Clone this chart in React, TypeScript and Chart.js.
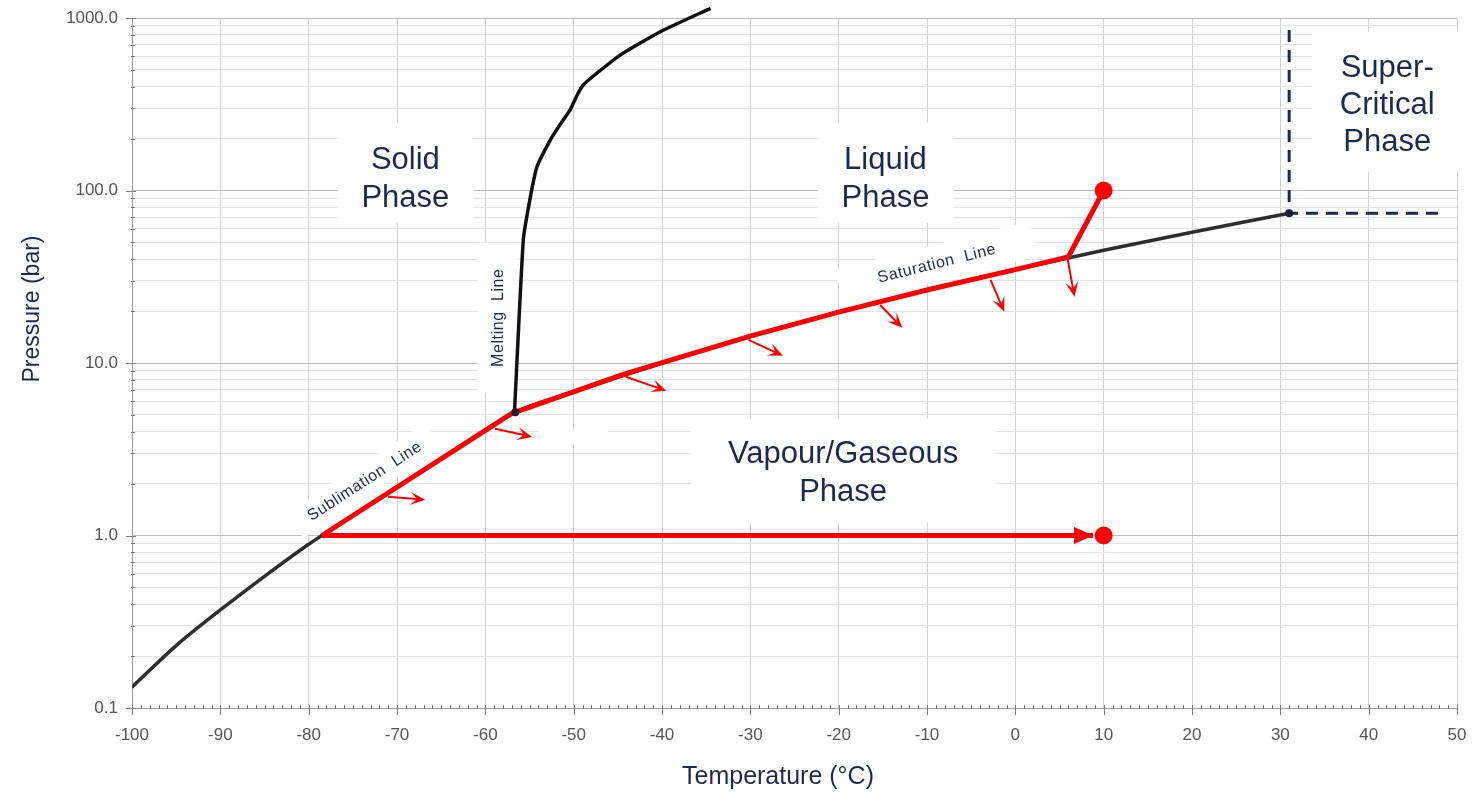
import React, { useEffect, useRef } from 'react';
import { Chart, registerables } from 'chart.js';

Chart.register(...registerables);

// ---------- DATA ----------
// Vapour-pressure curve of CO2 (sublimation + saturation), °C / bar
const vapourTemps = [-100, -95, -90, -85, -80, -78.5, -75, -70, -65, -60, -56.6, -50, -40, -30, -20, -10, 0, 10, 20, 31];
const vapourPress = [0.132, 0.23, 0.37, 0.58, 0.89, 1.0, 1.3, 1.91, 2.78, 4.06, 5.18, 6.8, 10.0, 14.3, 19.7, 26.5, 34.8, 45.0, 57.3, 73.8];

// Melting curve
const meltTemps = [-56.7, -55.7, -54.9, -54.15, -52.65, -51.5, -50.4, -49.6, -48.9, -47.9, -44.7, -40.2, -34.5];
const meltPress = [5.2, 51.8, 91.9, 137.5, 196, 243, 293, 358, 409, 455, 611, 833, 1138];

// Red process path along sublimation / saturation line
const redTemps = [-78.5, -57.0, -44.2, -30, -20, -10, 0, 6, 10];
const redPress = [1.0, 5.1, 8.65, 14.3, 19.7, 26.5, 34.8, 41.2, 100];

// Red horizontal path at 1 bar (ends in an arrow tip)
const horizTemps = [-78.5, 8.8];
const horizPress = [1.0, 1.0];

// Red end-point dots
const dotTemps = [10, 10];
const dotPress = [1.0, 100];

// Critical-point dashed boundary
const dashTemps = [31, 31, 48.7];
const dashPress = [852, 73.8, 73.8];

// Triple point and critical point
const keyTemps = [-56.6, 31];
const keyPress = [5.18, 73.8];

// Small red arrows (from -> to)
const arrowFromT = [-71.0, -58.9, -44.1, -30.2, -15.3, -2.8, 5.9];
const arrowFromP = [1.68, 4.16, 8.32, 13.6, 21.7, 30.3, 40.7];
const arrowToT = [-66.8, -54.7, -39.5, -26.3, -12.8, -1.25, 6.7];
const arrowToP = [1.61, 3.73, 6.9, 11.0, 16.0, 19.8, 24.2];

// Axis ticks
const xMin = -100;
const xMax = 50;
const yTickValues = [
  0.1, 0.2, 0.3, 0.4, 0.5, 0.6, 0.7, 0.8, 0.9,
  1, 2, 3, 4, 5, 6, 7, 8, 9,
  10, 20, 30, 40, 50, 60, 70, 80, 90,
  100, 200, 300, 400, 500, 600, 700, 800, 900,
  1000,
];
const yDecadeValues = [0.1, 1, 10, 100, 1000];
const yDecadeLabels = ['0.1', '1.0', '10.0', '100.0', '1000.0'];

const xTitle = 'Temperature (°C)';
const yTitle = 'Pressure (bar)';

// Text annotations
const NAVY = '#1b2a50';
const RED = '#ff0000';
const FONT = '"Liberation Sans", Arial, Helvetica, sans-serif';

type PhaseLabel = {
  lines: string[];
  t: number;
  p: number;
  size: number;
  lineH: number;
  angle: number;
  boxW: number;
  boxH: number;
  boxDy: number;
  textDy: number;
  spacing: string;
};

const phaseLabels: PhaseLabel[] = [
  { lines: ['Solid', 'Phase'], t: -69.05, p: 120, size: 31, lineH: 38, angle: 0, boxW: 136, boxH: 100, boxDy: -4, textDy: 3, spacing: '0px' },
  { lines: ['Liquid', 'Phase'], t: -14.7, p: 120, size: 31, lineH: 38, angle: 0, boxW: 136, boxH: 100, boxDy: -4, textDy: 3, spacing: '0px' },
  { lines: ['Super-', 'Critical', 'Phase'], t: 42.1, p: 326, size: 31, lineH: 37, angle: 0, boxW: 150, boxH: 140, boxDy: 0, textDy: 3, spacing: '0px' },
  { lines: ['Vapour/Gaseous', 'Phase'], t: -19.5, p: 2.37, size: 31, lineH: 38, angle: 0, boxW: 305, boxH: 104, boxDy: 0, textDy: 3, spacing: '0px' },
  { lines: ['Saturation  Line'], t: -8.9, p: 38.1, size: 16, lineH: 18, angle: -14, boxW: 200, boxH: 36, boxDy: 0, textDy: 1, spacing: '0.6px' },
  { lines: ['Sublimation  Line'], t: -73.7, p: 2.08, size: 16, lineH: 18, angle: -33, boxW: 165, boxH: 30, boxDy: 0, textDy: 1, spacing: '0.6px' },
  { lines: ['Melting  Line'], t: -58.6, p: 18.3, size: 16, lineH: 18, angle: -90, boxW: 150, boxH: 40, boxDy: 0, textDy: 1, spacing: '0.6px' },
  { lines: [], t: -50.1, p: 3.71, size: 16, lineH: 18, angle: 0, boxW: 70, boxH: 15, boxDy: 0, textDy: 0, spacing: '0px' },
];

function pts(xs: number[], ys: number[]) {
  return xs.map((x, i) => ({ x, y: ys[i] }));
}

function arrowHead(ctx: CanvasRenderingContext2D, x1: number, y1: number, x2: number, y2: number, len: number, half: number, notch: number) {
  const a = Math.atan2(y2 - y1, x2 - x1);
  ctx.save();
  ctx.translate(x2, y2);
  ctx.rotate(a);
  ctx.beginPath();
  ctx.moveTo(0, 0);
  ctx.lineTo(-len, -half);
  ctx.lineTo(-len * notch, 0);
  ctx.lineTo(-len, half);
  ctx.closePath();
  ctx.fill();
  ctx.restore();
}

const phasePlugin = {
  id: 'phasePlugin',
  beforeDatasetsDraw(chart: any) {
    const { ctx } = chart;
    const xs = chart.scales.x;
    const ys = chart.scales.y;
    for (const lab of phaseLabels) {
      const cx = xs.getPixelForValue(lab.t);
      const cy = ys.getPixelForValue(lab.p);
      ctx.save();
      ctx.translate(cx, cy);
      ctx.rotate((lab.angle * Math.PI) / 180);
      ctx.fillStyle = '#ffffff';
      ctx.fillRect(-lab.boxW / 2, -lab.boxH / 2 + lab.boxDy, lab.boxW, lab.boxH);
      ctx.fillStyle = NAVY;
      ctx.font = `${lab.size}px ${FONT}`;
      (ctx as any).letterSpacing = lab.spacing;
      ctx.textAlign = 'center';
      ctx.textBaseline = 'middle';
      const n = lab.lines.length;
      lab.lines.forEach((ln, i) => {
        ctx.fillText(ln, 0, (i - (n - 1) / 2) * lab.lineH + lab.textDy);
      });
      ctx.restore();
    }
  },
  afterDatasetsDraw(chart: any) {
    const { ctx } = chart;
    const xs = chart.scales.x;
    const ys = chart.scales.y;
    ctx.save();
    ctx.strokeStyle = RED;
    ctx.fillStyle = RED;
    ctx.lineWidth = 2;
    for (let i = 0; i < arrowFromT.length; i++) {
      const x1 = xs.getPixelForValue(arrowFromT[i]);
      const y1 = ys.getPixelForValue(arrowFromP[i]);
      const x2 = xs.getPixelForValue(arrowToT[i]);
      const y2 = ys.getPixelForValue(arrowToP[i]);
      const a = Math.atan2(y2 - y1, x2 - x1);
      ctx.beginPath();
      ctx.moveTo(x1, y1);
      ctx.lineTo(x2 - Math.cos(a) * 6, y2 - Math.sin(a) * 6);
      ctx.stroke();
      arrowHead(ctx, x1, y1, x2, y2, 15, 6.5, 0.55);
    }
    const n = horizTemps.length;
    const hx1 = xs.getPixelForValue(horizTemps[n - 2]);
    const hy1 = ys.getPixelForValue(horizPress[n - 2]);
    const hx2 = xs.getPixelForValue(horizTemps[n - 1]);
    const hy2 = ys.getPixelForValue(horizPress[n - 1]);
    arrowHead(ctx, hx1, hy1, hx2, hy2, 19, 8.5, 1);
    ctx.restore();
  },
  afterDraw(chart: any) {
    const { ctx, chartArea } = chart;
    const xs = chart.scales.x;
    const ys = chart.scales.y;
    ctx.save();
    ctx.strokeStyle = '#7a7a7a';
    ctx.lineWidth = 1;
    ctx.beginPath();
    for (let v = xMin; v <= xMax; v += 1) {
      const x = Math.round(xs.getPixelForValue(v)) + 0.5;
      if (v % 10 === 0) {
        ctx.moveTo(x, chartArea.bottom - 3);
        ctx.lineTo(x, chartArea.bottom + 7);
      } else {
        ctx.moveTo(x, chartArea.bottom - 3);
        ctx.lineTo(x, chartArea.bottom + 1);
      }
    }
    for (const v of yTickValues) {
      const y = Math.round(ys.getPixelForValue(v)) + 0.5;
      if (yDecadeValues.includes(v)) {
        ctx.moveTo(chartArea.left - 6, y);
        ctx.lineTo(chartArea.left + 4, y);
      } else {
        ctx.moveTo(chartArea.left - 1, y);
        ctx.lineTo(chartArea.left + 3, y);
      }
    }
    ctx.stroke();

    // axis titles (placed as in the reference, not centred on the plot)
    ctx.fillStyle = NAVY;
    ctx.textAlign = 'center';
    ctx.textBaseline = 'middle';
    ctx.font = `25px ${FONT}`;
    ctx.fillText(xTitle, 778, 777);
    ctx.translate(33, 309);
    ctx.rotate(-Math.PI / 2);
    ctx.font = `23px ${FONT}`;
    ctx.fillText(yTitle, 0, 0);
    ctx.restore();
  },
};

export default function App() {
  const canvasRef = useRef<HTMLCanvasElement | null>(null);

  useEffect(() => {
    document.body.style.margin = '0';
    const canvas = canvasRef.current;
    if (!canvas) return;
    const chart = new Chart(canvas, {
      type: 'scatter',
      data: {
        datasets: [
          {
            label: 'dots',
            data: pts(dotTemps, dotPress),
            showLine: false,
            pointRadius: 9,
            pointBackgroundColor: RED,
            pointBorderWidth: 0,
            order: 0,
          },
          {
            label: 'keypoints',
            data: pts(keyTemps, keyPress),
            showLine: false,
            pointRadius: 4,
            pointBackgroundColor: '#1a1f2e',
            pointBorderWidth: 0,
            order: 0,
          },
          {
            label: 'redPath',
            data: pts(redTemps, redPress),
            showLine: true,
            borderColor: RED,
            borderWidth: 5,
            pointRadius: 0,
            tension: 0,
            borderJoinStyle: 'round',
            order: 1,
          },
          {
            label: 'redHoriz',
            data: pts(horizTemps, horizPress),
            showLine: true,
            borderColor: RED,
            borderWidth: 5,
            pointRadius: 0,
            tension: 0,
            order: 1,
          },
          {
            label: 'critical',
            data: pts(dashTemps, dashPress),
            showLine: true,
            borderColor: NAVY,
            borderWidth: 3,
            borderDash: [12, 8],
            pointRadius: 0,
            tension: 0,
            order: 2,
          },
          {
            label: 'melting',
            data: pts(meltTemps, meltPress),
            showLine: true,
            borderColor: '#111111',
            borderWidth: 3.5,
            pointRadius: 0,
            tension: 0.15,
            borderJoinStyle: 'round',
            clip: { left: 5, top: 12, right: 5, bottom: 5 },
            order: 3,
          },
          {
            label: 'vapour',
            data: pts(vapourTemps, vapourPress),
            showLine: true,
            borderColor: '#2e2e2e',
            borderWidth: 3.5,
            pointRadius: 0,
            cubicInterpolationMode: 'monotone',
            order: 3,
          },
        ] as any,
      },
      options: {
        animation: false,
        responsive: true,
        maintainAspectRatio: false,
        layout: { padding: { top: 18, right: 15, left: 0, bottom: 0 } },
        plugins: {
          legend: { display: false },
          tooltip: { enabled: false },
        },
        events: [],
        scales: {
          x: {
            type: 'linear',
            min: xMin,
            max: xMax,
            afterFit: (scale: any) => {
              scale.height = 88;
              scale.paddingLeft = 0;
              scale.paddingRight = 0;
            },
            ticks: {
              stepSize: 10,
              autoSkip: false,
              maxRotation: 0,
              padding: 17,
              color: '#555555',
              font: { family: FONT, size: 17 },
            },
            grid: {
              color: '#d2d2d2',
              lineWidth: 1,
              drawTicks: false,
            },
            border: { display: true, color: '#9a9a9a', width: 1 },
            title: { display: false, text: xTitle },
          },
          y: {
            type: 'logarithmic',
            min: 0.1,
            max: 1000,
            afterFit: (scale: any) => {
              scale.width = 132;
              scale.paddingTop = 0;
              scale.paddingBottom = 0;
            },
            afterBuildTicks: (scale: any) => {
              scale.ticks = yTickValues.map((v) => ({ value: v, major: yDecadeValues.includes(v) }));
            },
            ticks: {
              autoSkip: false,
              padding: 14,
              color: '#555555',
              font: { family: FONT, size: 17 },
              callback: (value: any) => {
                const i = yDecadeValues.indexOf(Number(value));
                return i >= 0 ? yDecadeLabels[i] : '';
              },
            },
            grid: {
              color: (ctx: any) => (ctx.tick && yDecadeValues.includes(ctx.tick.value) ? '#bdbdbd' : '#e3e3e3'),
              lineWidth: 1,
              drawTicks: false,
            },
            border: { display: true, color: '#9a9a9a', width: 1 },
            title: { display: false, text: yTitle },
          },
        },
      } as any,
      plugins: [phasePlugin],
    });
    return () => chart.destroy();
  }, []);

  return (
    <div style={{ width: 1472, height: 796, position: 'relative', background: '#ffffff' }}>
      <canvas ref={canvasRef} />
    </div>
  );
}
